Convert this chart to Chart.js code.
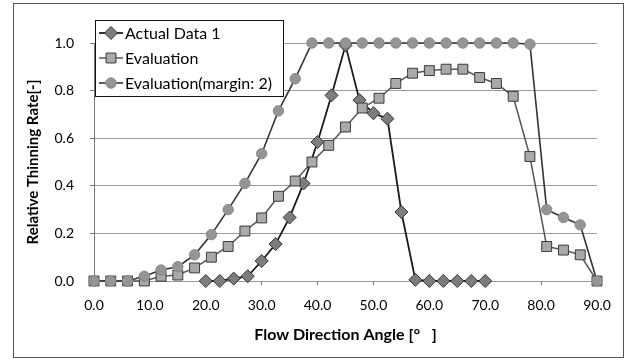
<!DOCTYPE html>
<html>
<head>
<meta charset="utf-8">
<script src="https://cdn.jsdelivr.net/npm/chart.js@4.4.0/dist/chart.umd.min.js"></script>
<style>
html,body{margin:0;padding:0;background:#fff;}
#wrap{width:629px;height:362px;}
</style>
</head>
<body>
<div id="wrap"><canvas id="c" width="629" height="362"></canvas></div>
<script>
// ---- data ----
const seriesNames = ["Actual Data 1", "Evaluation", "Evaluation(margin: 2)"];
const actualAngles = [20, 22.5, 25, 27.5, 30, 32.5, 35, 37.5, 40, 42.5, 45, 47.5, 50, 52.5, 55, 57.5, 60, 62.5, 65, 67.5, 70];
const actualValues = [0, 0, 0.01, 0.02, 0.084, 0.155, 0.267, 0.41, 0.584, 0.78, 0.99, 0.76, 0.705, 0.682, 0.29, 0.005, 0, 0, 0, 0, 0];
const evalAngles = [0, 3, 6, 9, 12, 15, 18, 21, 24, 27, 30, 33, 36, 39, 42, 45, 48, 51, 54, 57, 60, 63, 66, 69, 72, 75, 78, 81, 84, 87, 90];
const evalValues = [0, 0, 0, 0, 0.02, 0.025, 0.055, 0.10, 0.145, 0.21, 0.265, 0.356, 0.42, 0.50, 0.57, 0.647, 0.727, 0.768, 0.83, 0.873, 0.884, 0.89, 0.89, 0.855, 0.83, 0.776, 0.523, 0.145, 0.13, 0.11, 0];
const marginValues = [0, 0, 0, 0.02, 0.046, 0.06, 0.11, 0.195, 0.30, 0.41, 0.535, 0.715, 0.85, 1.0, 1.0, 1.0, 1.0, 1.0, 1.0, 1.0, 1.0, 1.0, 1.0, 1.0, 1.0, 1.0, 0.995, 0.30, 0.267, 0.236, 0];
const xTickValues = [0, 10, 20, 30, 40, 50, 60, 70, 80, 90];
const yTickValues = [0, 0.2, 0.4, 0.6, 0.8, 1.0];
const xTitle = "Flow Direction Angle [°   ]";
const yTitle = "Relative Thinning Rate[-]";

const FONT = "Lato, 'Open Sans', sans-serif";
const toXY = (xs, ys) => xs.map((x, i) => ({x: x, y: ys[i]}));

const datasets = [
  {
    label: seriesNames[0], data: toXY(actualAngles, actualValues),
    borderColor: '#1a1a1a', borderWidth: 1.8,
    pointStyle: 'rectRot', pointRadius: 6.5, pointBackgroundColor: '#7d7d7d',
    pointBorderColor: '#333', pointBorderWidth: 1, order: 3, clip: false, tension: 0
  },
  {
    label: seriesNames[1], data: toXY(evalAngles, evalValues),
    borderColor: '#555', borderWidth: 1.5,
    pointStyle: 'rect', pointRadius: 7, pointBackgroundColor: '#a9a9a9',
    pointBorderColor: '#3a3a3a', pointBorderWidth: 1, order: 2, clip: false, tension: 0
  },
  {
    label: seriesNames[2], data: toXY(evalAngles, marginValues),
    borderColor: '#333', borderWidth: 1.6,
    pointStyle: 'circle', pointRadius: 5.2, pointBackgroundColor: '#959595',
    pointBorderColor: '#888', pointBorderWidth: 1, order: 1, clip: false, tension: 0
  }
];

const framePlugin = {
  id: 'frame',
  beforeDraw(chart) {
    const ctx = chart.ctx;
    ctx.save();
    ctx.fillStyle = '#fff';
    ctx.fillRect(0, 0, chart.width, chart.height);
    ctx.strokeStyle = '#555';
    ctx.lineWidth = 1;
    ctx.strokeRect(13.5, 3.5, 610, 354);
    ctx.restore();
  }
};

const legendPlugin = {
  id: 'customLegend',
  afterDraw(chart) {
    const ctx = chart.ctx;
    ctx.save();
    const bx = 95.5, by = 20.5, bw = 188, bh = 76;
    ctx.fillStyle = '#fff';
    ctx.fillRect(bx, by, bw, bh);
    ctx.strokeStyle = '#111';
    ctx.lineWidth = 1;
    ctx.strokeRect(bx, by, bw, bh);
    const rows = [33, 58, 83];
    chart.data.datasets.forEach((ds, i) => {
      const y = rows[i];
      ctx.strokeStyle = ds.borderColor;
      ctx.lineWidth = ds.borderWidth;
      ctx.beginPath();
      ctx.moveTo(99, y);
      ctx.lineTo(123, y);
      ctx.stroke();
      ctx.fillStyle = ds.pointBackgroundColor;
      ctx.strokeStyle = ds.pointBorderColor;
      ctx.lineWidth = ds.pointBorderWidth;
      Chart.helpers.drawPoint(ctx, {pointStyle: ds.pointStyle, rotation: 0, radius: ds.pointRadius, borderWidth: ds.pointBorderWidth}, 111, y);
      ctx.fillStyle = '#000';
      ctx.font = "16px " + FONT;
      ctx.textBaseline = 'middle';
      ctx.textAlign = 'left';
      ctx.fillText(ds.label, 125, y + 1);
    });
    ctx.restore();
  }
};

new Chart(document.getElementById('c'), {
  type: 'line',
  data: { datasets: datasets },
  plugins: [framePlugin, legendPlugin],
  options: {
    responsive: false,
    animation: false,
    devicePixelRatio: 1,
    layout: { padding: { left: 0, right: 32, top: 43, bottom: 0 } },
    plugins: { legend: { display: false }, tooltip: { enabled: false } },
    scales: {
      x: {
        type: 'linear', min: 0, max: 90,
        afterBuildTicks: (s) => { s.ticks = xTickValues.map(v => ({value: v})); },
        afterFit: (s) => { s.height = 81; },
        ticks: { callback: (v) => Number(v).toFixed(1), color: '#000', font: { family: FONT, size: 14 }, padding: 12, maxRotation: 0 },
        grid: { drawOnChartArea: false, drawTicks: true, tickLength: 4, color: '#777' },
        border: { display: true, color: '#999', width: 1 },
        title: { display: true, text: xTitle, color: '#000', font: { family: FONT, size: 16, weight: 'bold' }, padding: { top: 0, bottom: 18 } }
      },
      y: {
        type: 'linear', min: 0, max: 1,
        afterBuildTicks: (s) => { s.ticks = yTickValues.map(v => ({value: v})); },
        afterFit: (s) => { s.width = 94; },
        ticks: { callback: (v) => Number(v).toFixed(1), color: '#000', font: { family: FONT, size: 14 }, padding: 16 },
        grid: { color: '#9a9a9a', tickLength: 4, tickColor: '#777' },
        border: { display: true, color: '#777', width: 1 },
        title: { display: true, text: yTitle, color: '#000', font: { family: FONT, size: 15, weight: 'bold' }, padding: { top: 24, bottom: 0 } }
      }
    }
  }
});
</script>
</body>
</html>
